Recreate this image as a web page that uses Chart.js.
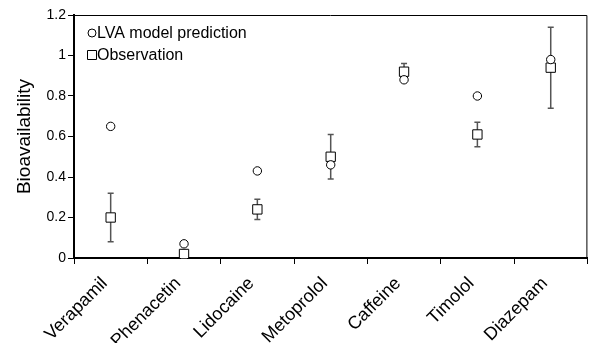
<!DOCTYPE html>
<html>
<head>
<meta charset="utf-8">
<script src="https://cdn.jsdelivr.net/npm/chart.js@4/dist/chart.umd.min.js"></script>
<style>
  html, body { margin: 0; padding: 0; background: #fff; }
  #wrap { width: 595px; height: 343px; }
</style>
</head>
<body>
<div id="wrap"><canvas id="chart" width="595" height="343"></canvas></div>
<script>
const drugs = ['Verapamil', 'Phenacetin', 'Lidocaine', 'Metoprolol', 'Caffeine', 'Timolol', 'Diazepam'];
const lvaPrediction = [0.65, 0.07, 0.43, 0.46, 0.88, 0.80, 0.98];
const observation = [0.20, 0.02, 0.24, 0.50, 0.92, 0.61, 0.94];
const obsLow = [0.08, 0.00, 0.19, 0.39, 0.88, 0.55, 0.74];
const obsHigh = [0.32, 0.04, 0.29, 0.61, 0.96, 0.67, 1.14];
const yTicks = [0, 0.2, 0.4, 0.6, 0.8, 1, 1.2];

const font = "'Liberation Sans', Arial, sans-serif";

// error bars go under the markers
const errorBars = {
  id: 'errorBars',
  beforeDatasetsDraw(chart) {
    const ctx = chart.ctx;
    const x = chart.scales.x, y = chart.scales.y;
    ctx.save();
    ctx.strokeStyle = '#555';
    ctx.lineWidth = 1.5;
    drugs.forEach((d, i) => {
      const px = x.getPixelForValue(i);
      const lo = y.getPixelForValue(obsLow[i]);
      const hi = y.getPixelForValue(obsHigh[i]);
      ctx.beginPath();
      ctx.moveTo(px, lo); ctx.lineTo(px, hi);
      ctx.moveTo(px - 3, lo); ctx.lineTo(px + 3, lo);
      ctx.moveTo(px - 3, hi); ctx.lineTo(px + 3, hi);
      ctx.stroke();
    });
    ctx.restore();
  }
};

// thin top/right frame + legend inside the plot
const frame = {
  id: 'frame',
  afterDraw(chart) {
    const a = chart.chartArea, ctx = chart.ctx;
    ctx.save();
    ctx.strokeStyle = '#000';
    ctx.lineWidth = 1;
    ctx.beginPath();
    ctx.moveTo(a.left, a.top + 0.5);
    ctx.lineTo(a.right - 0.5, a.top + 0.5);
    ctx.lineTo(a.right - 0.5, a.bottom);
    ctx.stroke();

    ctx.font = '16px ' + font;
    ctx.textBaseline = 'middle';
    ctx.fillStyle = '#000';
    chart.data.datasets.forEach((ds, i) => {
      const cx = a.left + 18, cy = a.top + 18 + i * 22;
      ctx.beginPath();
      if (ds.pointStyle === 'rect') ctx.rect(cx - 4.5, cy - 4.5, 9, 9);
      else ctx.arc(cx, cy, 4, 0, Math.PI * 2);
      ctx.stroke();
      ctx.fillText(ds.label, cx + 5, cy + 1);
    });
    ctx.restore();
  }
};

new Chart(document.getElementById('chart').getContext('2d'), {
  type: 'line',
  data: {
    labels: drugs,
    datasets: [
      {
        label: 'LVA model prediction',
        data: lvaPrediction,
        showLine: false,
        pointStyle: 'circle',
        pointRadius: 4.2,
        pointBorderWidth: 1,
        borderColor: '#000',
        backgroundColor: '#fff'
      },
      {
        label: 'Observation',
        data: observation,
        showLine: false,
        pointStyle: 'rect',
        pointRadius: 6.6,
        pointBorderWidth: 1,
        borderColor: '#000',
        backgroundColor: '#fff'
      }
    ]
  },
  options: {
    responsive: false,
    animation: false,
    layout: { padding: { top: 15, right: 2, left: 0, bottom: 0 } },
    plugins: {
      tooltip: { enabled: false },
      legend: { display: false }
    },
    scales: {
      x: {
        offset: true,
        grid: { offset: true, drawOnChartArea: false, drawTicks: true, tickLength: 6, color: '#000', lineWidth: 1 },
        border: { color: '#000', width: 2 },
        ticks: {
          minRotation: 45, maxRotation: 45, autoSkip: false,
          color: '#000', padding: 9, labelOffset: -6,
          font: { family: font, size: 18 }
        },
        afterFit(s) { s.height = 85; }
      },
      y: {
        min: 0, max: 1.2,
        afterBuildTicks(s) { s.ticks = yTicks.map(v => ({ value: v })); },
        grid: { drawOnChartArea: false, drawTicks: true, tickLength: 6, color: '#000' },
        border: { color: '#000', width: 2 },
        ticks: {
          color: '#000', padding: 2,
          font: { family: font, size: 14 },
          callback: v => String(Math.round(v * 10) / 10)
        },
        title: {
          display: true, text: 'Bioavailability', color: '#000',
          font: { family: font, size: 19 }, padding: { top: 13, bottom: 0 }
        },
        afterFit(s) { s.width = 74; }
      }
    }
  },
  plugins: [errorBars, frame]
});
</script>
</body>
</html>
